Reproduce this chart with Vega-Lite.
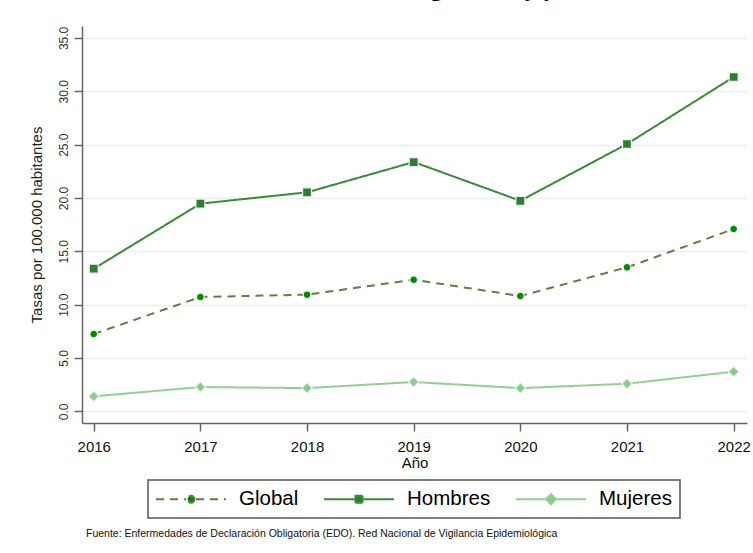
{
  "$schema": "https://vega.github.io/schema/vega-lite/v6.json",
  "background": "white",
  "padding": {"left": 23, "top": -22, "right": 5, "bottom": 5},
  "title": {"text": "Tasa de notificación de hidatidosis según año y por sexo, 2016-2022", "fontSize": 22, "font": "Open Sans", "fontWeight": "bold", "color": "#000", "anchor": "middle", "offset": 25},
  "config": {"view": {"stroke": null}, "font": "Liberation Sans"},
  "vconcat": [
    {
      "width": 665,
      "height": 397,
      "title": {"text": "Fuente: Enfermedades de Declaración Obligatoria (EDO). Red Nacional de Vigilancia Epidemiológica", "orient": "bottom", "anchor": "start", "frame": "group", "fontSize": 10.5, "fontWeight": "normal", "font": "Liberation Sans", "color": "#111", "offset": 58.5, "dx": 4},
      "data": {"values": [
        {"year": 2016, "serie": "Global", "value": 7.25},
        {"year": 2017, "serie": "Global", "value": 10.72},
        {"year": 2018, "serie": "Global", "value": 10.94},
        {"year": 2019, "serie": "Global", "value": 12.34},
        {"year": 2020, "serie": "Global", "value": 10.81},
        {"year": 2021, "serie": "Global", "value": 13.5},
        {"year": 2022, "serie": "Global", "value": 17.09},
        {"year": 2016, "serie": "Hombres", "value": 13.37},
        {"year": 2017, "serie": "Hombres", "value": 19.47},
        {"year": 2018, "serie": "Hombres", "value": 20.53},
        {"year": 2019, "serie": "Hombres", "value": 23.37},
        {"year": 2020, "serie": "Hombres", "value": 19.74},
        {"year": 2021, "serie": "Hombres", "value": 25.06},
        {"year": 2022, "serie": "Hombres", "value": 31.34},
        {"year": 2016, "serie": "Mujeres", "value": 1.41},
        {"year": 2017, "serie": "Mujeres", "value": 2.28},
        {"year": 2018, "serie": "Mujeres", "value": 2.18},
        {"year": 2019, "serie": "Mujeres", "value": 2.75},
        {"year": 2020, "serie": "Mujeres", "value": 2.18},
        {"year": 2021, "serie": "Mujeres", "value": 2.59},
        {"year": 2022, "serie": "Mujeres", "value": 3.72}
      ]},
      "encoding": {
        "x": {"field": "year", "type": "quantitative",
          "scale": {"domain": [2015.89, 2022.125], "nice": false, "zero": false},
          "axis": {"values": [2016, 2017, 2018, 2019, 2020, 2021, 2022], "format": "d", "title": "Año", "grid": false,
            "domainColor": "#666", "domainWidth": 1.5, "tickColor": "#666", "tickWidth": 1.5, "tickSize": 8,
            "labelFontSize": 15, "labelColor": "#111", "labelPadding": 8, "labelFont": "Liberation Sans",
            "titleFontSize": 15, "titleFontWeight": "normal", "titleColor": "#111", "titlePadding": 1, "titleFont": "Liberation Sans"}},
        "y": {"field": "value", "type": "quantitative",
          "scale": {"domain": [-1.09, 36.12], "nice": false, "zero": false},
          "axis": {"values": [0, 5, 10, 15, 20, 25, 30, 35], "format": ".1f", "labelAngle": 270, "grid": true,
            "gridColor": "#e8f0f0", "gridWidth": 1.5,
            "domainColor": "#666", "domainWidth": 1.5, "tickColor": "#666", "tickWidth": 1.5, "tickSize": 8,
            "labelFontSize": 12, "labelColor": "#333", "labelPadding": 4, "labelFont": "Liberation Sans",
            "title": "Tasas por 100.000 habitantes", "titleFontSize": 15, "titleFontWeight": "normal", "titleColor": "#222", "titlePadding": 13, "titleFont": "Liberation Sans"}}
      },
      "layer": [
        {
          "mark": {"type": "line", "strokeWidth": 2},
          "encoding": {
            "stroke": {"field": "serie", "type": "nominal",
              "scale": {"domain": ["Global", "Hombres", "Mujeres"], "range": ["#6b7a48", "#3a8a3a", "#93d093"]},
              "legend": {"title": null, "orient": "none", "legendX": 66, "legendY": 454, "direction": "horizontal", "strokeColor": "#555", "padding": 8,
                "labelFontSize": 20.5, "labelFont": "Liberation Sans", "labelColor": "#000", "symbolSize": 400, "symbolStrokeWidth": 2,
                "columnPadding": 21, "labelOffset": 61,
                "encode": {
                  "legend": {"update": {"strokeWidth": {"value": 1.5}}},
                  "symbols": {"update": {
                    "shape": {"signal": "datum.value === 'Global' ? 'M-3.5,0H-0.5M0.5,0H3.5M0.35,0A0.35,0.35,0,1,1,-0.35,0A0.35,0.35,0,1,1,0.35,0Z' : datum.value === 'Hombres' ? 'M-3.5,0H-0.4M0.4,0H3.5M-0.35,-0.35H0.35V0.35H-0.35Z' : 'M-3.5,0H-0.5M0.5,0H3.5M0,-0.5L0.5,0L0,0.5L-0.5,0Z'"},
                    "size": {"value": 400},
                    "x": {"value": 35},
                    "fill": {"signal": "datum.value === 'Global' ? '#008a00' : datum.value === 'Hombres' ? '#2e7d32' : '#8ccb8c'"},
                    "fillOpacity": {"value": 1}
                  }}
                }}},
            "strokeDash": {"field": "serie", "type": "nominal",
              "scale": {"domain": ["Global", "Hombres", "Mujeres"], "range": [[8, 6], [1, 0], [1, 0]]}}
          }
        },
        {
          "transform": [{"filter": "datum.serie === 'Global'"}],
          "mark": {"type": "point", "shape": "circle", "filled": true, "fill": "#008a00", "stroke": "#eaf5ea", "strokeWidth": 1.2, "opacity": 1, "size": 60}
        },
        {
          "transform": [{"filter": "datum.serie === 'Hombres'"}],
          "mark": {"type": "point", "shape": "square", "filled": true, "fill": "#2e7d32", "stroke": "#eaf5ea", "strokeWidth": 1.2, "opacity": 1, "size": 80}
        },
        {
          "transform": [{"filter": "datum.serie === 'Mujeres'"}],
          "mark": {"type": "point", "shape": "diamond", "filled": true, "fill": "#8ccb8c", "stroke": "#eaf5ea", "strokeWidth": 1.2, "opacity": 1, "size": 110}
        }
      ]
    }
  ]
}
